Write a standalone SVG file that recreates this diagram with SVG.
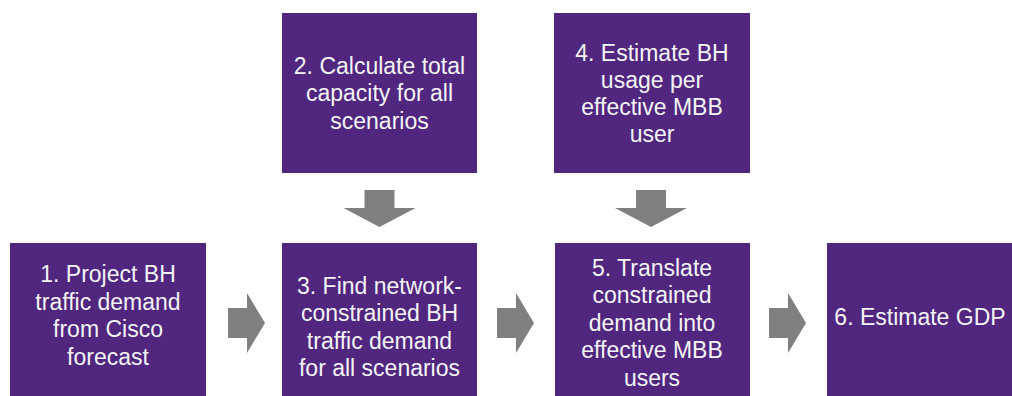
<svg xmlns="http://www.w3.org/2000/svg" width="1012" height="396" viewBox="0 0 1012 396">
<style>
.box{fill:#50267f}
.t{font-family:"Liberation Sans",Arial,sans-serif;font-size:23px;fill:#f4f4f4;text-anchor:middle}
.arr{fill:#808080}
</style>
<defs>
<polygon id="down" points="-15,0 15,0 15,18 36,18 0,37 -36,18 -15,18"/>
<polygon id="right" points="0,-15 19,-15 19,-30 37,0 19,30 19,15 0,15"/>
</defs>
<rect width="1012" height="396" fill="#ffffff"/>
<g id="node2"><rect class="box" x="282" y="13" width="195" height="160"/>
<text class="t" x="379.5" y="73.5">2. Calculate total</text>
<text class="t" x="379.5" y="101">capacity for all</text>
<text class="t" x="379.5" y="128.5">scenarios</text></g>
<g id="node4"><rect class="box" x="554" y="13" width="196" height="160"/>
<text class="t" x="652" y="60.5">4. Estimate BH</text>
<text class="t" x="652" y="87.5">usage per</text>
<text class="t" x="652" y="115">effective MBB</text>
<text class="t" x="652" y="142">user</text></g>
<g id="node1"><rect class="box" x="10" y="243" width="196" height="153"/>
<text class="t" x="108" y="282">1. Project BH</text>
<text class="t" x="108" y="309.5">traffic demand</text>
<text class="t" x="108" y="337">from Cisco</text>
<text class="t" x="108" y="364.5">forecast</text></g>
<g id="node3"><rect class="box" x="282" y="243" width="195" height="153"/>
<text class="t" x="379.5" y="293.5">3. Find network-</text>
<text class="t" x="379.5" y="321">constrained BH</text>
<text class="t" x="379.5" y="348.5">traffic demand</text>
<text class="t" x="379.5" y="376">for all scenarios</text></g>
<g id="node5"><rect class="box" x="555" y="243" width="195" height="153"/>
<text class="t" x="652" y="275.5">5. Translate</text>
<text class="t" x="652" y="303">constrained</text>
<text class="t" x="652" y="330.5">demand into</text>
<text class="t" x="652" y="358">effective MBB</text>
<text class="t" x="652" y="385.5">users</text></g>
<g id="node6"><rect class="box" x="827" y="243" width="196" height="153"/>
<text class="t" x="920" y="325">6. Estimate GDP</text></g>
<g id="connectors">
<use href="#down" class="arr" x="379.5" y="190"/>
<use href="#down" class="arr" x="651" y="190"/>
<use href="#right" class="arr" x="228" y="323"/>
<use href="#right" class="arr" x="497" y="323"/>
<use href="#right" class="arr" x="769" y="323"/>
</g>
</svg>
